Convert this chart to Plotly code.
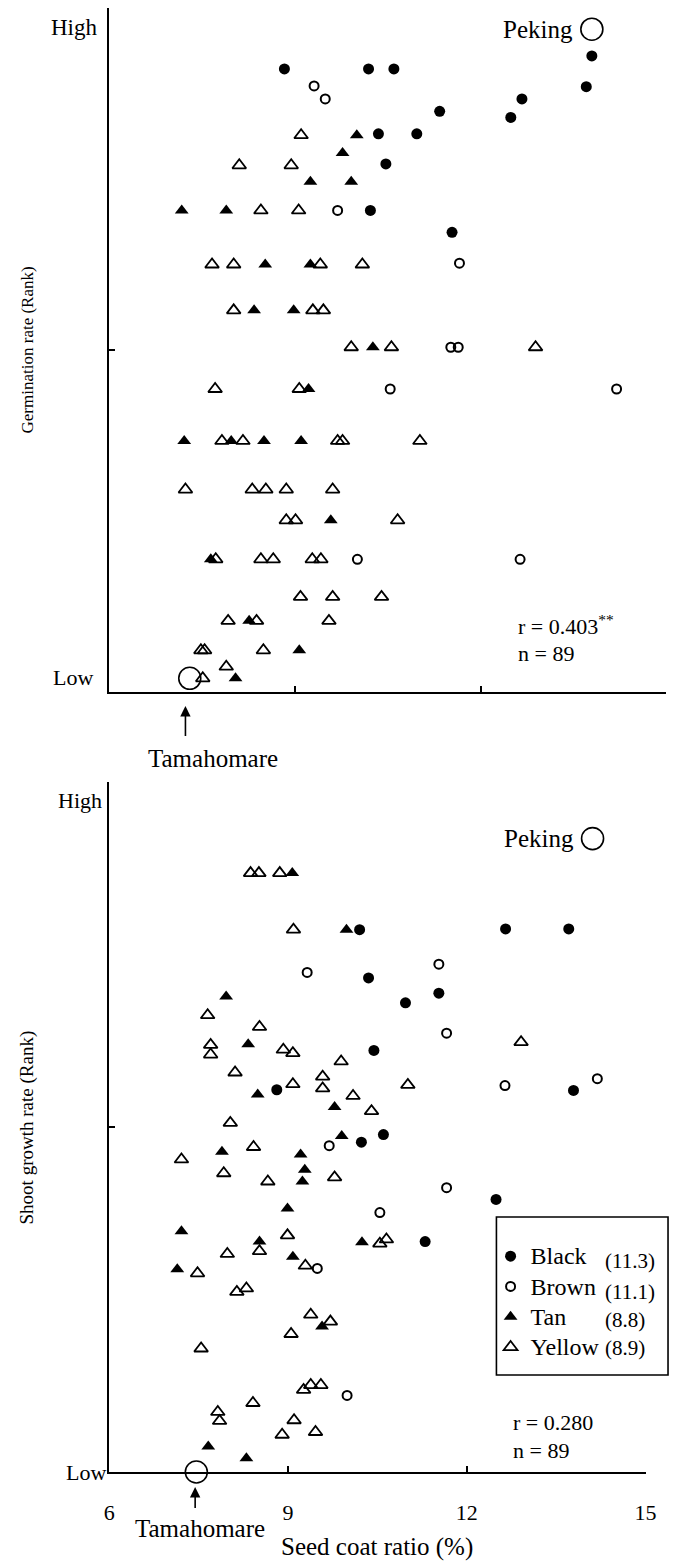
import plotly.graph_objects as go

W, H = 680, 1566
SERIF = "Liberation Serif, Times New Roman, serif"

# ---------------- Top panel: germination rate (rank score, 0 = low, 100 = high) ----------------
germ_black_x = [13.80, 8.83, 10.19, 10.60, 13.71, 12.67, 11.34, 12.49, 10.35, 10.97, 10.47, 10.22, 11.54]
germ_black_y = [93.0, 91.1, 91.1, 91.1, 88.5, 86.7, 84.9, 84.0, 81.6, 81.6, 77.2, 70.4, 67.2]
germ_brown_x = [9.31, 9.49, 9.69, 11.66, 11.52, 11.64, 10.54, 14.20, 10.01, 12.64]
germ_brown_y = [88.6, 86.7, 70.4, 62.7, 50.4, 50.4, 44.3, 44.3, 19.4, 19.4]
germ_tan_x = [10.00, 9.77, 9.25, 9.91, 7.17, 7.89, 8.52, 9.25, 8.34, 8.98, 10.26, 9.22, 7.21, 7.97,
              8.50, 9.10, 9.58, 7.64, 8.26, 9.07, 8.04]
germ_tan_y = [81.4, 78.8, 74.6, 74.6, 70.4, 70.4, 62.5, 62.5, 55.8, 55.8, 50.4, 44.3, 36.7, 36.7,
              36.7, 36.7, 25.1, 19.4, 10.4, 6.1, 2.0]
germ_yellow_x = [9.10, 8.10, 8.94, 8.45, 9.06, 7.66, 8.01, 9.41, 10.09, 8.01, 9.29, 9.46, 9.91, 10.56,
                 12.89, 7.71, 9.07, 7.82, 8.16, 9.69, 9.77, 11.02, 7.23, 8.31, 8.53, 8.86, 9.61, 8.86,
                 9.01, 10.66, 7.72, 8.45, 8.65, 9.28, 9.42, 9.09, 9.61, 10.40, 7.92, 8.38, 9.55, 7.48,
                 7.54, 8.49, 7.89, 7.51]
germ_yellow_y = [81.4, 77.0, 77.0, 70.4, 70.4, 62.5, 62.5, 62.5, 62.5, 55.8, 55.8, 55.8, 50.4, 50.4,
                 50.4, 44.3, 44.3, 36.7, 36.7, 36.7, 36.7, 36.7, 29.6, 29.6, 29.6, 29.6, 29.6, 25.1,
                 25.1, 25.1, 19.4, 19.4, 19.4, 19.4, 19.4, 13.9, 13.9, 13.9, 10.4, 10.4, 10.4, 6.1,
                 6.1, 6.1, 3.7, 2.0]
germ_ref_names = ["Peking", "Tamahomare"]
germ_ref_x = [13.80, 7.30]
germ_ref_y = [96.9, 2.0]
germ_stats = ["r = 0.403<sup>**</sup>", "n = 89"]

# ---------------- Bottom panel: shoot growth rate (rank score) ----------------
shoot_black_x = [10.20, 12.65, 13.71, 10.35, 11.53, 10.97, 10.44, 8.81, 13.79, 10.60, 10.23, 12.49, 11.30]
shoot_black_y = [78.6, 78.7, 78.7, 71.6, 69.4, 68.0, 61.1, 55.4, 55.3, 48.9, 47.8, 39.5, 33.4]
shoot_brown_x = [11.53, 9.32, 11.66, 12.64, 14.19, 9.69, 11.66, 10.54, 9.49, 9.99]
shoot_brown_y = [73.6, 72.4, 63.6, 56.0, 57.0, 47.3, 41.2, 37.6, 29.5, 11.1]
shoot_tan_x = [9.07, 9.98, 7.96, 8.33, 8.49, 9.78, 9.90, 7.89, 9.21, 9.28, 9.24, 8.99, 7.21, 8.52,
               10.24, 9.08, 7.14, 9.57, 7.66, 8.30]
shoot_tan_y = [86.8, 78.6, 68.9, 62.0, 54.7, 52.9, 48.7, 46.4, 46.0, 43.8, 42.1, 38.2, 34.9, 33.4,
               33.3, 31.2, 29.4, 21.1, 3.7, 2.0]
shoot_yellow_x = [8.37, 8.51, 8.86, 9.09, 7.65, 8.52, 12.91, 7.70, 8.92, 9.08, 7.70, 9.89, 8.11, 9.58,
                  9.08, 11.01, 9.58, 10.09, 10.40, 8.03, 8.42, 7.21, 7.92, 9.78, 8.66, 8.99, 10.65,
                  10.54, 8.52, 7.98, 9.29, 7.48, 8.30, 8.14, 9.38, 9.71, 9.05, 7.54, 9.38, 9.55, 9.26,
                  8.41, 7.82, 9.10, 7.85, 9.46, 8.90]
shoot_yellow_y = [86.8, 86.8, 86.8, 78.6, 66.2, 64.5, 62.3, 61.9, 61.2, 60.7, 60.5, 59.5, 57.9, 57.3,
                  56.2, 56.1, 55.6, 54.5, 52.3, 50.6, 47.1, 45.3, 43.3, 42.7, 42.1, 34.3, 33.7, 33.1,
                  32.0, 31.6, 29.9, 28.8, 26.6, 26.1, 22.8, 21.8, 20.0, 17.9, 12.6, 12.6, 11.9, 10.0,
                  8.7, 7.5, 7.4, 5.8, 5.4]
shoot_ref_names = ["Peking", "Tamahomare"]
shoot_ref_x = [14.11, 7.46]
shoot_ref_y = [91.8, 0.0]
shoot_stats = ["r = 0.280", "n = 89"]

# ---------------- legend categories ----------------
colour_names = ["Black", "Brown", "Tan", "Yellow"]
colour_means = ["(11.3)", "(11.1)", "(8.8)", "(8.9)"]
x_ticks = [6, 9, 12, 15]
x_ticktext = ["6", "9", "12", "15"]
rank_labels = ["High", "Low"]

STYLE = {
    "Black": dict(symbol="circle", size=11, color="black", line=dict(width=0)),
    "Brown": dict(symbol="circle-open", size=9, color="black", line=dict(width=2, color="black")),
    "Tan": dict(symbol="triangle-up", size=12, color="black", line=dict(width=0)),
    "Yellow": dict(symbol="triangle-up-open", size=12, color="black", line=dict(width=1.8, color="black")),
}


def px(x):
    return x / W


def py(y):
    return 1 - y / H


fig = go.Figure()

top_series = [(germ_black_x, germ_black_y), (germ_brown_x, germ_brown_y),
              (germ_tan_x, germ_tan_y), (germ_yellow_x, germ_yellow_y)]
bot_series = [(shoot_black_x, shoot_black_y), (shoot_brown_x, shoot_brown_y),
              (shoot_tan_x, shoot_tan_y), (shoot_yellow_x, shoot_yellow_y)]

for name, (xs, ys) in zip(colour_names, top_series):
    fig.add_trace(go.Scatter(x=xs, y=ys, mode="markers", marker=STYLE[name], name=name,
                             showlegend=False, xaxis="x", yaxis="y", cliponaxis=False))
for name, (xs, ys) in zip(colour_names, bot_series):
    fig.add_trace(go.Scatter(x=xs, y=ys, mode="markers", marker=STYLE[name],
                             name=f'<span style="font-size:24px">{name}</span>',
                             showlegend=True, xaxis="x2", yaxis="y2", cliponaxis=False))

ref_marker = dict(symbol="circle-open", size=22, color="black", line=dict(width=1.6, color="black"))
fig.add_trace(go.Scatter(x=germ_ref_x, y=germ_ref_y, mode="markers", marker=ref_marker,
                         text=germ_ref_names, showlegend=False, xaxis="x", yaxis="y", cliponaxis=False))
fig.add_trace(go.Scatter(x=shoot_ref_x, y=shoot_ref_y, mode="markers", marker=ref_marker,
                         text=shoot_ref_names, showlegend=False, xaxis="x2", yaxis="y2", cliponaxis=False))

axis_common = dict(showline=True, linecolor="black", linewidth=1.6, ticks="inside", ticklen=6,
                   tickwidth=1.6, tickcolor="black", showgrid=False, zeroline=False, fixedrange=True)

fig.update_layout(
    width=W, height=H,
    margin=dict(l=0, r=0, t=0, b=0),
    paper_bgcolor="white", plot_bgcolor="white",
    font=dict(family=SERIF, color="black", size=20),
    xaxis=dict(domain=[px(106), px(677)], range=[6, 15], anchor="y", tickvals=x_ticks,
               showticklabels=False, **axis_common),
    yaxis=dict(domain=[py(692), py(8)], range=[0, 100], anchor="x", tickvals=[0, 50, 100],
               showticklabels=False, **axis_common),
    xaxis2=dict(domain=[px(106), px(656)], range=[6, 15], anchor="y2", tickvals=x_ticks,
                ticktext=x_ticktext, showticklabels=True, ticklabelstandoff=20,
                tickfont=dict(family=SERIF, size=22, color="black"), **axis_common),
    yaxis2=dict(domain=[py(1472), py(782)], range=[0, 100], anchor="x2", tickvals=[0, 50, 100],
                showticklabels=False, **axis_common),
    legend=dict(x=px(497), y=py(1236), xanchor="left", yanchor="top", bgcolor="rgba(0,0,0,0)",
                borderwidth=0, font=dict(family=SERIF, size=21, color="black"),
                itemsizing="trace", traceorder="normal"),
    shapes=[dict(type="rect", xref="paper", yref="paper", x0=px(503), x1=px(679),
                 y0=py(1375), y1=py(1217), line=dict(color="black", width=1.6),
                 fillcolor="rgba(0,0,0,0)")],
)

ann = []


def text(x, y, s, size=22, xanchor="center", angle=0, xref="paper", yref="paper"):
    ann.append(dict(x=x, y=y, xref=xref, yref=yref, text=s, showarrow=False, xanchor=xanchor,
                    yanchor="middle", textangle=angle,
                    font=dict(family=SERIF, size=size, color="black")))


# axis titles
text(px(22), py(350), "Germination rate (Rank)", size=17, angle=-90)
text(px(22), py(1127), "Shoot growth rate (Rank)", size=19, angle=-90)
text(px(380), py(1547), "Seed coat ratio (%)", size=25)

# High / Low
text(px(96), py(27), rank_labels[0], xanchor="right", size=23)
text(px(91), py(677), rank_labels[1], xanchor="right")
text(px(100), py(800), rank_labels[0], xanchor="right")
text(px(105), py(1472), rank_labels[1], xanchor="right")

# Peking labels (anchored to the reference cultivar points)
for xs, ys, names, xr, yr in [(germ_ref_x, germ_ref_y, germ_ref_names, "x", "y"),
                              (shoot_ref_x, shoot_ref_y, shoot_ref_names, "x2", "y2")]:
    ann.append(dict(x=xs[0], y=ys[0], xref=xr, yref=yr, text=names[0], showarrow=False,
                    xanchor="right", yanchor="middle", xshift=-17,
                    font=dict(family=SERIF, size=25, color="black")))

# Tamahomare arrows (arrow only) + labels
ann.append(dict(x=germ_ref_x[1] - 0.07, y=py(706), xref="x", yref="paper", text=" ", showarrow=True,
                ax=0, ay=32, arrowhead=2, arrowsize=1.3, arrowwidth=1.6, arrowcolor="black",
                font=dict(size=1)))
text(px(212), py(758), germ_ref_names[1], size=25)
ann.append(dict(x=shoot_ref_x[1] - 0.02, y=py(1487), xref="x2", yref="paper", text=" ", showarrow=True,
                ax=0, ay=23, arrowhead=2, arrowsize=1.3, arrowwidth=1.6, arrowcolor="black",
                font=dict(size=1)))
text(px(199), py(1528), shoot_ref_names[1], size=25)

# statistics
text(px(523), py(625), germ_stats[0], size=22, xanchor="left")
text(px(523), py(653), germ_stats[1], size=22, xanchor="left")
text(px(518), py(1422), shoot_stats[0], size=22, xanchor="left")
text(px(518), py(1450), shoot_stats[1], size=22, xanchor="left")

# legend means
for i, m in enumerate(colour_means):
    text(px(612), py([1261, 1292, 1320, 1348][i]), m, size=21, xanchor="left")

fig.update_layout(annotations=ann)
fig.write_html("out.html")
